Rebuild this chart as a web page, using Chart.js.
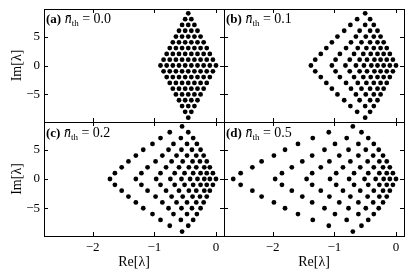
<!DOCTYPE html>
<html>
<head>
<meta charset="utf-8">
<script src="https://cdn.jsdelivr.net/npm/chart.js@4.4.1/dist/chart.umd.min.js"></script>
<style>
html, body { margin: 0; padding: 0; background: #fff; }
#wrap { position: relative; width: 415px; height: 277px; overflow: hidden; }
#wrap canvas { position: absolute; left: 0; top: 0; }
.lab { position: absolute; font-family: 'Liberation Serif', serif; font-size: 14px; line-height: 14px; color: #000; white-space: nowrap; }
.lab b { font-size: 13px; }
.lab sub { font-size: 9px; vertical-align: 0; position: relative; top: 3px; }
</style>
</head>
<body>
<div id="wrap">
  <canvas id="pa" width="415" height="277"></canvas>
  <canvas id="pb" width="415" height="277"></canvas>
  <canvas id="pc" width="415" height="277"></canvas>
  <canvas id="pd" width="415" height="277"></canvas>
  <div class="lab" style="left:46px;top:12px"><b>(a)</b> <i>n̄</i><sub>th</sub> = 0.0</div>
  <div class="lab" style="left:226px;top:12px"><b>(b)</b> <i>n̄</i><sub>th</sub> = 0.1</div>
  <div class="lab" style="left:46px;top:126px"><b>(c)</b> <i>n̄</i><sub>th</sub> = 0.2</div>
  <div class="lab" style="left:226px;top:126px"><b>(d)</b> <i>n̄</i><sub>th</sub> = 0.5</div>
</div>
<script>
// Im[λ] de chaque rangée (symétrique : on trace +d et -d)
const imRows = [0, 1, 2, 3, 4, 5, 6, 7, 8, 9];

// Re[λ] par rangée d = 0..9
const reA = [ // n_th = 0.0
    [0, -0.1, -0.2, -0.3, -0.4, -0.5, -0.6, -0.7, -0.8, -0.9],
    [-0.05, -0.15, -0.25, -0.35, -0.45, -0.55, -0.65, -0.75, -0.85],
    [-0.1, -0.2, -0.3, -0.4, -0.5, -0.6, -0.7, -0.8],
    [-0.15, -0.25, -0.35, -0.45, -0.55, -0.65, -0.75],
    [-0.2, -0.3, -0.4, -0.5, -0.6, -0.7],
    [-0.25, -0.35, -0.45, -0.55, -0.65],
    [-0.3, -0.4, -0.5, -0.6],
    [-0.35, -0.45, -0.55],
    [-0.4, -0.5],
    [-0.45]
];
const reB = [ // n_th = 0.1
    [0, -0.10, -0.20, -0.30, -0.40, -0.52, -0.65, -0.82, -1.04, -1.38],
    [-0.05, -0.15, -0.25, -0.35, -0.47, -0.59, -0.75, -0.98, -1.31],
    [-0.10, -0.20, -0.30, -0.41, -0.53, -0.68, -0.91, -1.22],
    [-0.15, -0.25, -0.36, -0.48, -0.62, -0.81, -1.13],
    [-0.20, -0.30, -0.42, -0.56, -0.73, -1.04],
    [-0.25, -0.36, -0.49, -0.65, -0.95],
    [-0.30, -0.42, -0.59, -0.84],
    [-0.36, -0.50, -0.74],
    [-0.42, -0.63],
    [-0.50]
];
const reC = [ // n_th = 0.2
    [0, -0.10, -0.19, -0.30, -0.42, -0.56, -0.74, -0.97, -1.30, -1.72],
    [-0.05, -0.15, -0.25, -0.37, -0.51, -0.67, -0.90, -1.21, -1.64],
    [-0.10, -0.19, -0.32, -0.44, -0.60, -0.81, -1.11, -1.53],
    [-0.15, -0.26, -0.38, -0.54, -0.72, -0.98, -1.42],
    [-0.20, -0.32, -0.47, -0.64, -0.87, -1.30],
    [-0.25, -0.39, -0.56, -0.77, -1.18],
    [-0.31, -0.47, -0.69, -1.03],
    [-0.37, -0.57, -0.90],
    [-0.45, -0.75],
    [-0.55]
];
const reD = [ // n_th = 0.5
    [0, -0.10, -0.20, -0.33, -0.51, -0.76, -1.07, -1.45, -1.96, -2.64],
    [-0.05, -0.15, -0.27, -0.45, -0.68, -0.97, -1.36, -1.85, -2.52],
    [-0.10, -0.21, -0.36, -0.58, -0.86, -1.22, -1.69, -2.33],
    [-0.15, -0.27, -0.46, -0.74, -1.08, -1.52, -2.18],
    [-0.21, -0.37, -0.61, -0.92, -1.36, -1.98],
    [-0.28, -0.49, -0.77, -1.16, -1.80],
    [-0.36, -0.61, -0.99, -1.59],
    [-0.45, -0.80, -1.35],
    [-0.56, -1.09],
    [-0.70]
];

const xTicks = [-2, -1, 0];
const yTicks = [-5, 0, 5];
const xMin = -2.79, xMax = 0.13;
const yMin = -9.75, yMax = 9.75;
const serif = "'Liberation Serif', 'Times New Roman', serif";

const fmt = v => (v < 0 ? '\u2212' + Math.abs(v) : String(v));

// cadre + graduations vers l'intérieur, sur les 4 côtés
const frame = {
    id: 'frame',
    afterDraw(chart) {
        const { ctx, chartArea: a, scales: { x, y } } = chart;
        ctx.save();
        ctx.strokeStyle = '#000';
        ctx.lineWidth = 1;
        ctx.beginPath();
        xTicks.forEach(v => {
            const px = Math.round(x.getPixelForValue(v)) + 0.5;
            ctx.moveTo(px, a.bottom); ctx.lineTo(px, a.bottom - 4);
            ctx.moveTo(px, a.top); ctx.lineTo(px, a.top + 4);
        });
        yTicks.forEach(v => {
            const py = Math.round(y.getPixelForValue(v)) + 0.5;
            ctx.moveTo(a.left, py); ctx.lineTo(a.left + 4, py);
            ctx.moveTo(a.right, py); ctx.lineTo(a.right - 4, py);
        });
        ctx.stroke();
        ctx.strokeRect(a.left + 0.5, a.top + 0.5, a.right - a.left, a.bottom - a.top);
        ctx.restore();
    }
};

function makePanel(id, rows, pad, showX, showY) {
    const pts = [];
    rows.forEach((re, d) => {
        re.forEach(v => {
            pts.push({ x: v, y: imRows[d] });
            if (imRows[d] !== 0) pts.push({ x: v, y: -imRows[d] });
        });
    });

    new Chart(document.getElementById(id), {
        type: 'scatter',
        data: {
            datasets: [{
                data: pts,
                backgroundColor: '#000',
                borderWidth: 0,
                pointRadius: 2.4,
                pointHoverRadius: 2.4
            }]
        },
        options: {
            responsive: false,
            animation: false,
            events: [],
            layout: { padding: pad },
            plugins: { legend: { display: false }, tooltip: { enabled: false } },
            scales: {
                x: {
                    type: 'linear', min: xMin, max: xMax,
                    grid: { display: false, drawTicks: false },
                    border: { display: false },
                    afterBuildTicks: s => { s.ticks = xTicks.map(v => ({ value: v })); },
                    ticks: { display: showX, padding: 4, color: '#000', font: { family: serif, size: 13 }, callback: fmt },
                    title: { display: showX, text: 'Re[λ]', color: '#000', font: { family: serif, size: 14 }, padding: { top: 0, bottom: 6 } },
                    afterFit: s => { s.height = showX ? 41 : 0; s.paddingLeft = 0; s.paddingRight = 0; }
                },
                y: {
                    type: 'linear', min: yMin, max: yMax,
                    grid: { display: false, drawTicks: false },
                    border: { display: false },
                    afterBuildTicks: s => { s.ticks = yTicks.map(v => ({ value: v })); },
                    ticks: { display: showY, padding: 4, color: '#000', font: { family: serif, size: 13 }, callback: fmt },
                    title: { display: showY, text: 'Im[λ]', color: '#000', font: { family: serif, size: 14 }, padding: { top: 9, bottom: 0 } },
                    afterFit: s => { s.width = showY ? 44 : 0; s.paddingTop = 0; s.paddingBottom = 0; }
                }
            }
        },
        plugins: [frame]
    });
}

makePanel('pa', reA, { left: 0, top: 9, right: 191, bottom: 155 }, false, true);
makePanel('pb', reB, { left: 224, top: 9, right: 11, bottom: 155 }, false, false);
makePanel('pc', reC, { left: 0, top: 122, right: 191, bottom: 0 }, true, true);
makePanel('pd', reD, { left: 224, top: 122, right: 11, bottom: 0 }, true, false);
</script>
</body>
</html>
